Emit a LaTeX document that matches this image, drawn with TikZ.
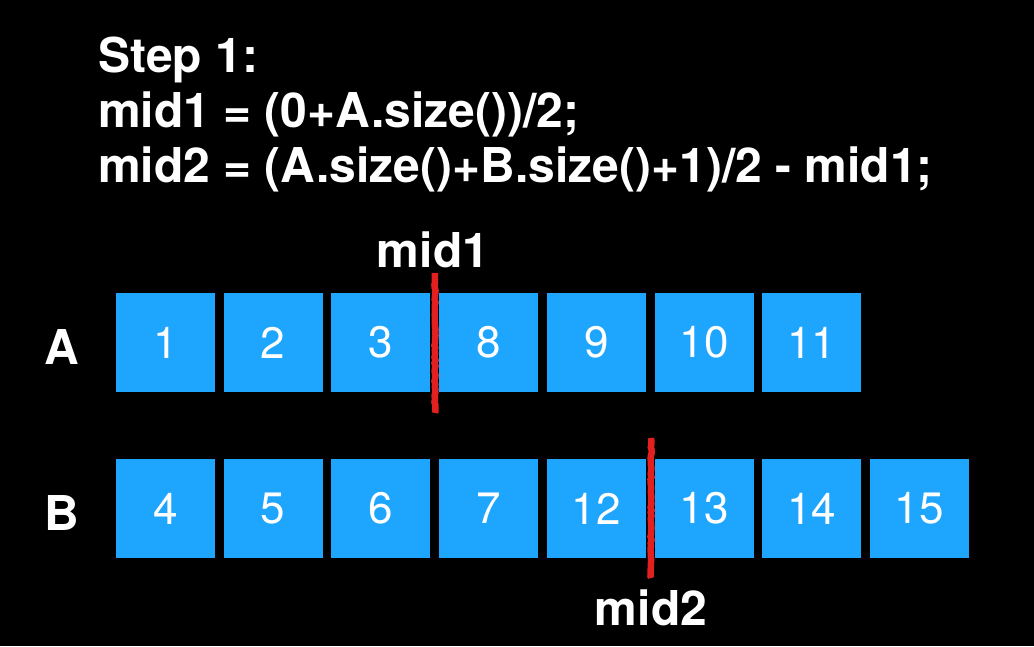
\documentclass[tikz,border=0pt]{standalone}
\usepackage{fontspec}
\setmainfont{TeX Gyre Heros}
\usetikzlibrary{decorations.pathmorphing}
\definecolor{cellblue}{RGB}{30,165,253}
\definecolor{cutred}{RGB}{226,32,32}
\tikzset{
	cell/.style={fill=cellblue, minimum width=99pt, minimum height=99pt, inner sep=0pt, text=white, font=\fontsize{44}{50}\selectfont},
	boldtext/.style={text=white, inner sep=0pt, font=\bfseries\fontsize{48}{55}\selectfont},
	cutline/.style={cutred, line width=6.5pt, decorate, decoration={random steps, segment length=3pt, amplitude=0.6pt}}
}
\begin{document}
\begin{tikzpicture}[x=1pt, y=-1pt]
		%%%%% START %%%%%
		\fill[black] (0, 0) rectangle (1034, 646);
		\useasboundingbox (0, 0) rectangle (1034, 646);
		
		\node[boldtext, anchor=base west] (step) at (98, 72) {Step 1:};
		\node[boldtext, anchor=base west] (eqone) at (98, 127) {mid1 = (0+A.size())/2;};
		\node[boldtext, anchor=base west] (eqtwo) at (98, 182) {mid2 = (A.size()+B.size()+1)/2 - mid1;};
		
		\node[boldtext] (labA) at (62, 347) {A};
		\node[boldtext] (labB) at (62, 513) {B};
		
		\foreach \v [count=\i] in {1, 2, 3, 8, 9, 10, 11}
			\node[cell] (a\i) at ({165.5 + 107.7*(\i-1)}, 342.5) {\v};
		\foreach \v [count=\i] in {4, 5, 6, 7, 12, 13, 14, 15}
			\node[cell] (b\i) at ({165.5 + 107.7*(\i-1)}, 508.5) {\v};
		
		\node[boldtext] (midone) at (433, 250) {mid1};
		\coordinate (cutAtop) at (435, 273);
		\coordinate (cutAbot) at (435, 413);
		\draw[cutline] (cutAtop) -- (cutAbot);
		
		\node[boldtext] (midtwo) at (651, 608) {mid2};
		\coordinate (cutBtop) at (651, 438);
		\coordinate (cutBbot) at (651, 578);
		\draw[cutline] (cutBtop) -- (cutBbot);
		%%%%% END %%%%%
\end{tikzpicture}
\end{document}
